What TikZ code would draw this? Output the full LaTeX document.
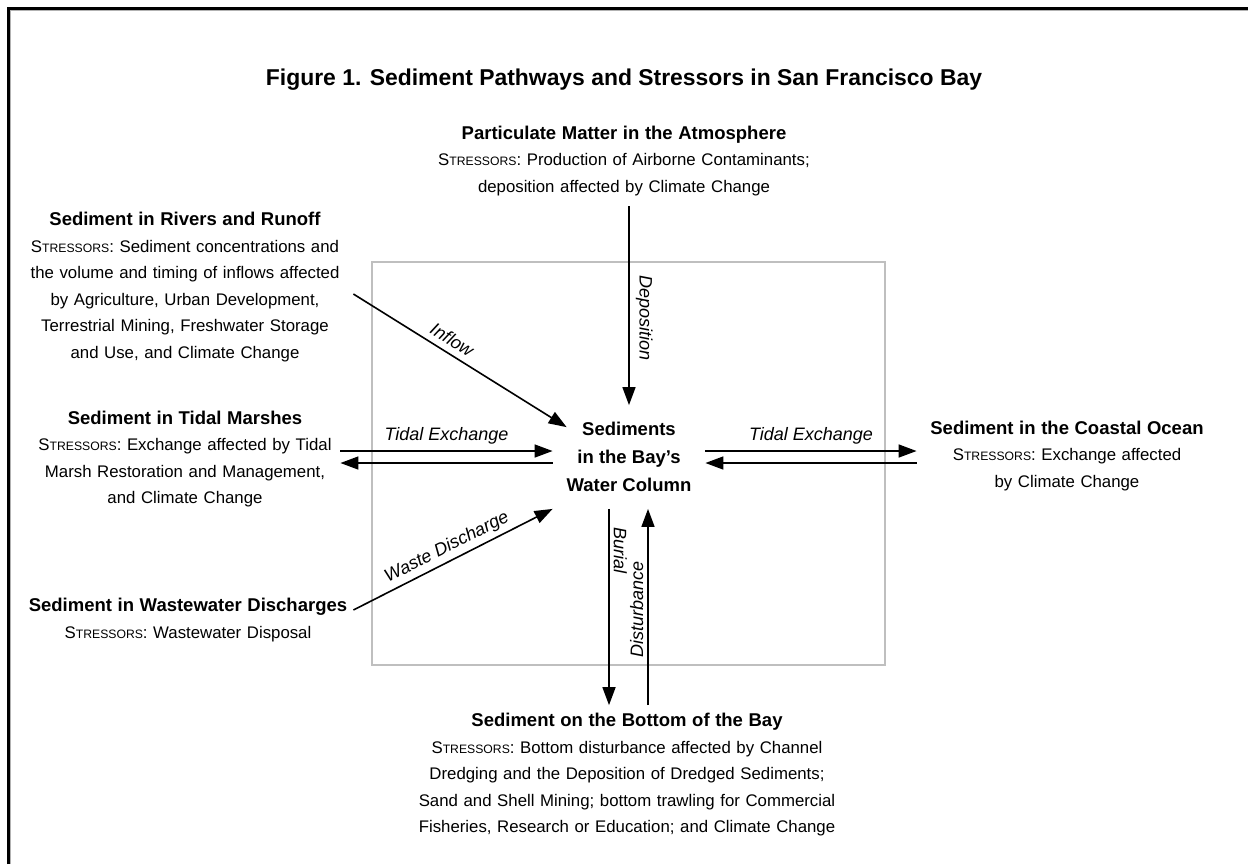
\documentclass[tikz,border=0pt]{standalone}
\usepackage{fontspec}
\setmainfont{Liberation Sans}
\usetikzlibrary{arrows.meta, calc}
\def \bodyfont {\fontsize{8.4}{13.25}\selectfont}
\def \headfont {\fontsize{9.25}{13.25}\selectfont\bfseries}
\def \strs {S{\fontsize{6.1}{13.25}\selectfont TRESSORS}:}

\begin{document}
\begin{tikzpicture}[
    x=0.5pt, y=-0.5pt,
    side/.style={
        text width=155pt,
        align=center,
        inner sep=0pt,
        font=\bodyfont
    },
    center/.style={
        align=center,
        inner sep=0pt,
        minimum width=76pt,
        minimum height=51.5pt,
        font=\fontsize{9.25}{14}\selectfont\bfseries
    },
    flow/.style={
        -{Triangle[length=9pt,width=6.5pt]},
        line width=0.8pt
    },
    pathlabel/.style={
        font=\fontsize{9}{11}\selectfont\itshape,
        inner sep=3pt
    }
]
\useasboundingbox (0,0) rectangle (1248,864);

% Frame and bay outline
\draw[gray!60, line width=0.6pt] (10.8,864) -- (10.8,10.8) -- (1248,10.8);
\draw[line width=1.5pt] (8.5,864) -- (8.5,8.5) -- (1248,8.5);
\draw[gray!50, line width=1pt] (372,262) rectangle (885,665);

% Title at top
\node[font=\fontsize{11.45}{14}\selectfont\bfseries] (figtitle) at (624,80) {Figure 1. Sediment Pathways and Stressors in San Francisco Bay};

% Sources round the bay
\node[side, text width=200pt, inner sep=5pt] (atmo) at (624,161) {{\headfont Particulate Matter in the Atmosphere}\\ \strs{} Production of Airborne Contaminants;\\ deposition affected by Climate Change};
\node[side] (rivers) at (185,287) {{\headfont Sediment in Rivers and Runoff}\\ \strs{} Sediment concentrations and\\ the volume and timing of inflows affected\\ by Agriculture, Urban Development,\\ Terrestrial Mining, Freshwater Storage\\ and Use, and Climate Change};
\node[side] (marsh) at (185,459) {{\headfont Sediment in Tidal Marshes}\\ \strs{} Exchange affected by Tidal\\ Marsh Restoration and Management,\\ and Climate Change};
\node[side, text width=170pt] (waste) at (188,620) {{\headfont Sediment in Wastewater Discharges}\\ \strs{} Wastewater Disposal};
\node[side, text width=150pt] (ocean) at (1067,456) {{\headfont Sediment in the Coastal Ocean}\\ \strs{} Exchange affected\\ by Climate Change};
\node[side, text width=240pt, inner sep=4pt] (bay) at (627,775) {{\headfont Sediment on the Bottom of the Bay}\\ \strs{} Bottom disturbance affected by Channel\\ Dredging and the Deposition of Dredged Sediments;\\ Sand and Shell Mining; bottom trawling for Commercial\\ Fisheries, Research or Education; and Climate Change};

% Water column in the middle
\node[center] (water) at (629,457) {Sediments\\ in the Bay's\\ Water Column};

% Pathways
\draw[flow] (water.north |- atmo.south) -- node[pos=.56, rotate=-90, anchor=south, pathlabel] {Deposition} (water.north);
\draw[flow] ($(rivers.east)+(13,7)$) -- node[pos=.43, above, sloped, pathlabel] {Inflow} ($(water.north west)+(14,22)$);
\draw[flow] ([yshift=3pt]water.west -| marsh.east) -- node[above, pathlabel] {Tidal Exchange} ([yshift=3pt]water.west);
\draw[flow] ([yshift=-3pt]water.west) -- ([yshift=-3pt]water.west -| marsh.east);
\draw[flow] ($(waste.east)+(-5,-10)$) -- node[pos=.5, above, sloped, pathlabel, inner sep=2pt] {Waste Discharge} (water.south west);
\draw[flow] ([yshift=3pt]water.east) -- node[above, pathlabel] {Tidal Exchange} ([yshift=3pt]water.east -| ocean.west);
\draw[flow] ([yshift=-3pt]water.east -| ocean.west) -- ([yshift=-3pt]water.east);
\draw[flow] ([xshift=-10pt]water.south) -- node[pos=.21, rotate=-90, anchor=south, pathlabel, inner sep=2pt] {Burial} ([xshift=-10pt]water.south |- bay.north);
\draw[flow] ([xshift=9.5pt]water.south |- bay.north) -- node[pos=.49, rotate=90, anchor=south, pathlabel, inner sep=2pt] {Disturbance} ([xshift=9.5pt]water.south);

\end{tikzpicture}
\end{document}
